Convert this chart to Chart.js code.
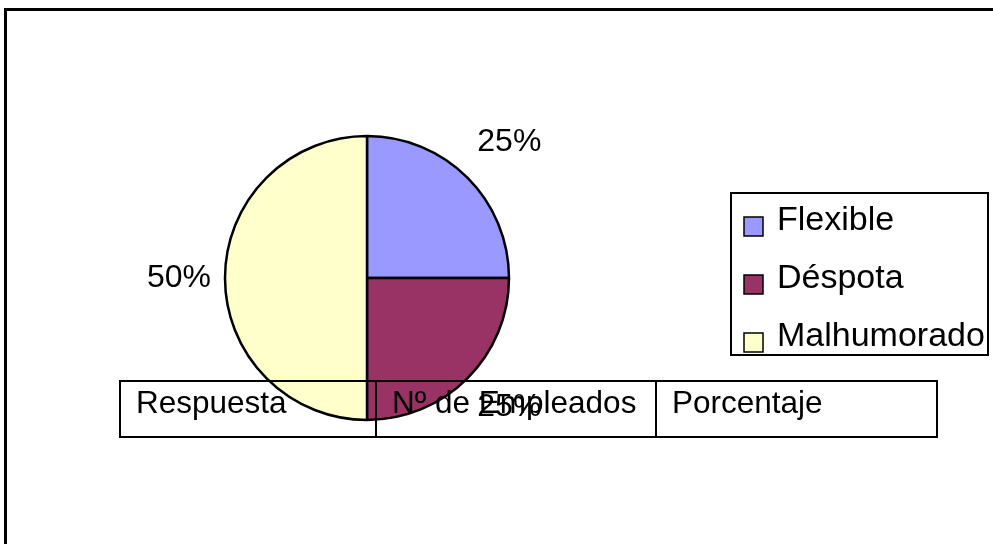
<!DOCTYPE html>
<html>
<head>
<meta charset="utf-8">
<script src="https://cdn.jsdelivr.net/npm/chart.js@4/dist/chart.umd.min.js"></script>
<style>
  html, body { margin: 0; padding: 0; background: #fff; }
  #wrap { position: relative; width: 993px; height: 544px; }
</style>
</head>
<body>
<div id="wrap"><canvas id="pieChart" width="993" height="544"></canvas></div>
<script>
  "use strict";

  // chart data
  const labels = ["Flexible", "Déspota", "Malhumorado"];
  const values = [25, 25, 50];
  const colors = ["#9999FF", "#993366", "#FFFFCC"];
  const tableHeaders = ["Respuesta", "Nº de Empleados", "Porcentaje"];

  const FONT = "Liberation Sans, Arial, sans-serif";

  // outer frame (runs off the right / bottom like the original)
  const framePlugin = {
    id: "frame",
    beforeDraw(chart) {
      const ctx = chart.ctx;
      ctx.save();
      ctx.fillStyle = "#fff";
      ctx.fillRect(0, 0, chart.width, chart.height);
      ctx.strokeStyle = "#000";
      ctx.lineWidth = 3;
      ctx.strokeRect(5.5, 9.5, 1100, 700);
      ctx.restore();
    }
  };

  // percentage labels outside each slice
  const pctPlugin = {
    id: "pctLabels",
    afterDraw(chart) {
      const ctx = chart.ctx;
      const meta = chart.getDatasetMeta(0);
      const total = values.reduce((a, b) => a + b, 0);
      ctx.save();
      ctx.font = "32px " + FONT;
      ctx.fillStyle = "#000";
      ctx.textAlign = "center";
      ctx.textBaseline = "middle";
      meta.data.forEach((arc, i) => {
        const p = arc.getProps(["x", "y", "startAngle", "endAngle", "outerRadius"], true);
        const mid = (p.startAngle + p.endAngle) / 2;
        const txt = Math.round(values[i] / total * 100) + "%";
        const w = ctx.measureText(txt).width;
        const r = p.outerRadius + 14;
        const c = Math.cos(mid), s = Math.sin(mid);
        const cx = p.x + c * r + (Math.abs(c) > 0.1 ? Math.sign(c) * w / 2 : 0);
        const cy = p.y + s * r + (Math.abs(s) > 0.1 ? (s < 0 ? -26 : 19) : 0);
        ctx.fillText(txt, cx, cy);
      });
      ctx.restore();
    }
  };

  // boxed legend on the right
  const legendPlugin = {
    id: "boxLegend",
    afterDraw(chart) {
      const ctx = chart.ctx;
      ctx.save();
      ctx.strokeStyle = "#000";
      ctx.lineWidth = 2;
      ctx.strokeRect(731, 193, 257, 162);
      ctx.font = "34px " + FONT;
      ctx.textBaseline = "alphabetic";
      labels.forEach((lab, i) => {
        const base = 230 + i * 58;
        ctx.fillStyle = colors[i];
        ctx.fillRect(744, base - 13, 19, 19);
        ctx.lineWidth = 1.5;
        ctx.strokeRect(744, base - 13, 19, 19);
        ctx.fillStyle = "#000";
        ctx.fillText(lab, 777, base);
      });
      ctx.restore();
    }
  };

  // header table that sits over the bottom of the pie
  const tablePlugin = {
    id: "hdrTable",
    afterDraw(chart) {
      const ctx = chart.ctx;
      const cols = [120, 376, 656, 937];
      const top = 381, bottom = 437;
      ctx.save();
      ctx.strokeStyle = "#000";
      ctx.lineWidth = 2;
      ctx.strokeRect(cols[0], top, cols[3] - cols[0], bottom - top);
      ctx.beginPath();
      ctx.moveTo(cols[1], top); ctx.lineTo(cols[1], bottom);
      ctx.moveTo(cols[2], top); ctx.lineTo(cols[2], bottom);
      ctx.stroke();
      ctx.font = "31.5px " + FONT;
      ctx.fillStyle = "#000";
      ctx.textBaseline = "alphabetic";
      tableHeaders.forEach((h, i) => ctx.fillText(h, cols[i] + 16, 413));
      ctx.restore();
    }
  };

  document.addEventListener("DOMContentLoaded", function () {
    const el = document.getElementById("pieChart");
    new Chart(el, {
      type: "pie",
      data: {
        labels: labels,
        datasets: [{
          data: values,
          backgroundColor: colors,
          borderColor: "#000",
          borderWidth: 2.5,
          radius: 142
        }]
      },
      options: {
        responsive: false,
        animation: false,
        layout: { padding: { left: 217, right: 476, top: 128, bottom: 116 } },
        plugins: {
          legend: { display: false },
          tooltip: { enabled: false }
        }
      },
      plugins: [framePlugin, tablePlugin, pctPlugin, legendPlugin]
    });
  });
</script>
</body>
</html>
